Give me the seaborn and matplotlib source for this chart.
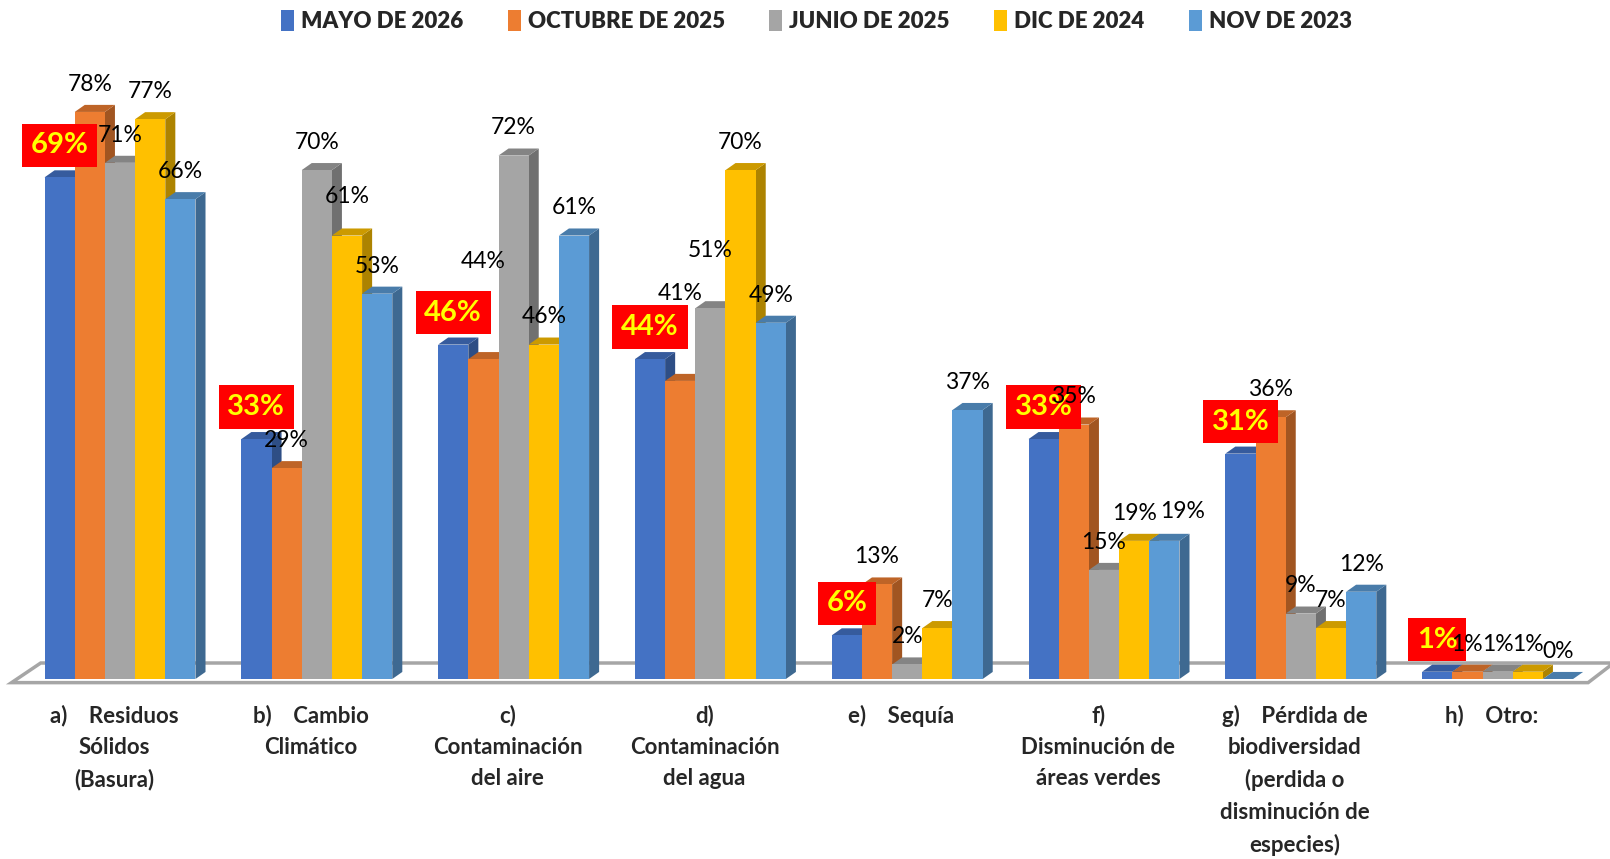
import numpy as np
import pandas as pd
import matplotlib
matplotlib.use('Agg')
import matplotlib.pyplot as plt
from matplotlib.patches import Polygon
from matplotlib.colors import to_rgb
import seaborn as sns

# datos
CATEGORIAS = ['a)    Residuos\nSólidos\n(Basura)',
              'b)    Cambio\nClimático',
              'c)\nContaminación\ndel aire',
              'd)\nContaminación\ndel agua',
              'e)    Sequía',
              'f)\nDisminución de\náreas verdes',
              'g)    Pérdida de\nbiodiversidad\n(perdida o\ndisminución de\nespecies)',
              'h)    Otro:']
SERIES = ['MAYO DE 2026', 'OCTUBRE DE 2025', 'JUNIO DE 2025', 'DIC DE 2024', 'NOV DE 2023']
MAYO_2026 = [69, 33, 46, 44, 6, 33, 31, 1]
OCTUBRE_2025 = [78, 29, 44, 41, 13, 35, 36, 1]
JUNIO_2025 = [71, 70, 72, 51, 2, 15, 9, 1]
DIC_2024 = [77, 61, 46, 70, 7, 19, 7, 1]
NOV_2023 = [66, 53, 61, 49, 37, 19, 12, 0]
COLORES = ['#4472C4', '#ED7D31', '#A5A5A5', '#FFC000', '#5B9BD5']

# etiquetas que Excel movio de su sitio (serie, categoria): (dx, dy)
AJUSTES = {(1, 2): (0, 13.4), (1, 3): (0, 12.0), (2, 3): (0, 8.0),
           (3, 1): (0, 5.4), (4, 5): (0.094, 4.0)}

# profundidad 3D en unidades de datos
DX = 0.051
DY = 0.97

valores = [MAYO_2026, OCTUBRE_2025, JUNIO_2025, DIC_2024, NOV_2023]
filas = []
for s, serie in enumerate(SERIES):
    for c, cat in enumerate(CATEGORIAS):
        filas.append({'cat': cat, 'serie': serie, 'valor': valores[s][c]})
df = pd.DataFrame(filas)

sns.set_style('white')
plt.rcParams['font.family'] = ['Lato', 'DejaVu Sans']

fig = plt.figure(figsize=(16.1, 8.59), dpi=100)
ax = fig.add_axes([0, 0, 1, 1])
sns.barplot(data=df, x='cat', y='valor', hue='serie', palette=COLORES,
            width=0.767, saturation=1, ax=ax, linewidth=0)

ax.set_xlim(-120 / 196.8, 1490 / 196.8)
ax.set_ylim(-(859 - 679) / 7.27, 679 / 7.27)
ax.axis('off')


def oscuro(color, f):
    r, g, b = to_rgb(color)
    return (r * f, g * f, b * f)


# suelo del grafico 3D
suelo = Polygon([(-0.551, -0.5), (7.46, -0.5), (7.59, 2.2), (-0.403, 2.2)],
                closed=True, facecolor='white', edgecolor='#A6A6A6',
                linewidth=2.5, zorder=1)
ax.add_patch(suelo)

for j, cont in enumerate(ax.containers):
    col = COLORES[j]
    for i, p in enumerate(cont.patches):
        x0 = p.get_x()
        w = p.get_width()
        h = p.get_height()
        x1 = x0 + w
        p.set_zorder(3 + 2 * j)
        lado = Polygon([(x1, 0), (x1 + DX, DY), (x1 + DX, h + DY), (x1, h)],
                       closed=True, facecolor=oscuro(col, 0.68),
                       edgecolor='none', zorder=2 + 2 * j)
        tapa = Polygon([(x0, h), (x1, h), (x1 + DX, h + DY), (x0 + DX, h + DY)],
                       closed=True, facecolor=oscuro(col, 0.8),
                       edgecolor='none', zorder=2 + 2 * j)
        ax.add_patch(lado)
        ax.add_patch(tapa)

        cx = x0 + w / 2
        dx, dy = AJUSTES.get((j, i), (0, 3.8))
        texto = f'{valores[j][i]}%'
        if j == 0:
            ax.text(cx, h + 4.4, texto, ha='center', va='center',
                    fontsize=21, fontweight='bold', color='#FFFF00', zorder=30,
                    bbox=dict(boxstyle='square,pad=0.3', facecolor='#FF0000',
                              edgecolor='none'))
        else:
            ax.text(cx + dx, h + dy, texto, ha='center', va='center',
                    fontsize=16.5, color='black', zorder=31)

for i, cat in enumerate(CATEGORIAS):
    ax.text(i - 0.03, -3.5, cat, ha='center', va='top', fontsize=16,
            fontweight='bold', linespacing=1.62, multialignment='center')

handles, labels = ax.get_legend_handles_labels()
ax.get_legend().remove()
fig.legend(handles, labels, loc='upper center', bbox_to_anchor=(0.507, 1.012),
           ncol=5, frameon=False, prop={'weight': 'heavy', 'size': 16},
           handlelength=0.6, handleheight=1.1, handletextpad=0.3,
           columnspacing=2.0)

fig.savefig('out.png', dpi=100, facecolor='white')
